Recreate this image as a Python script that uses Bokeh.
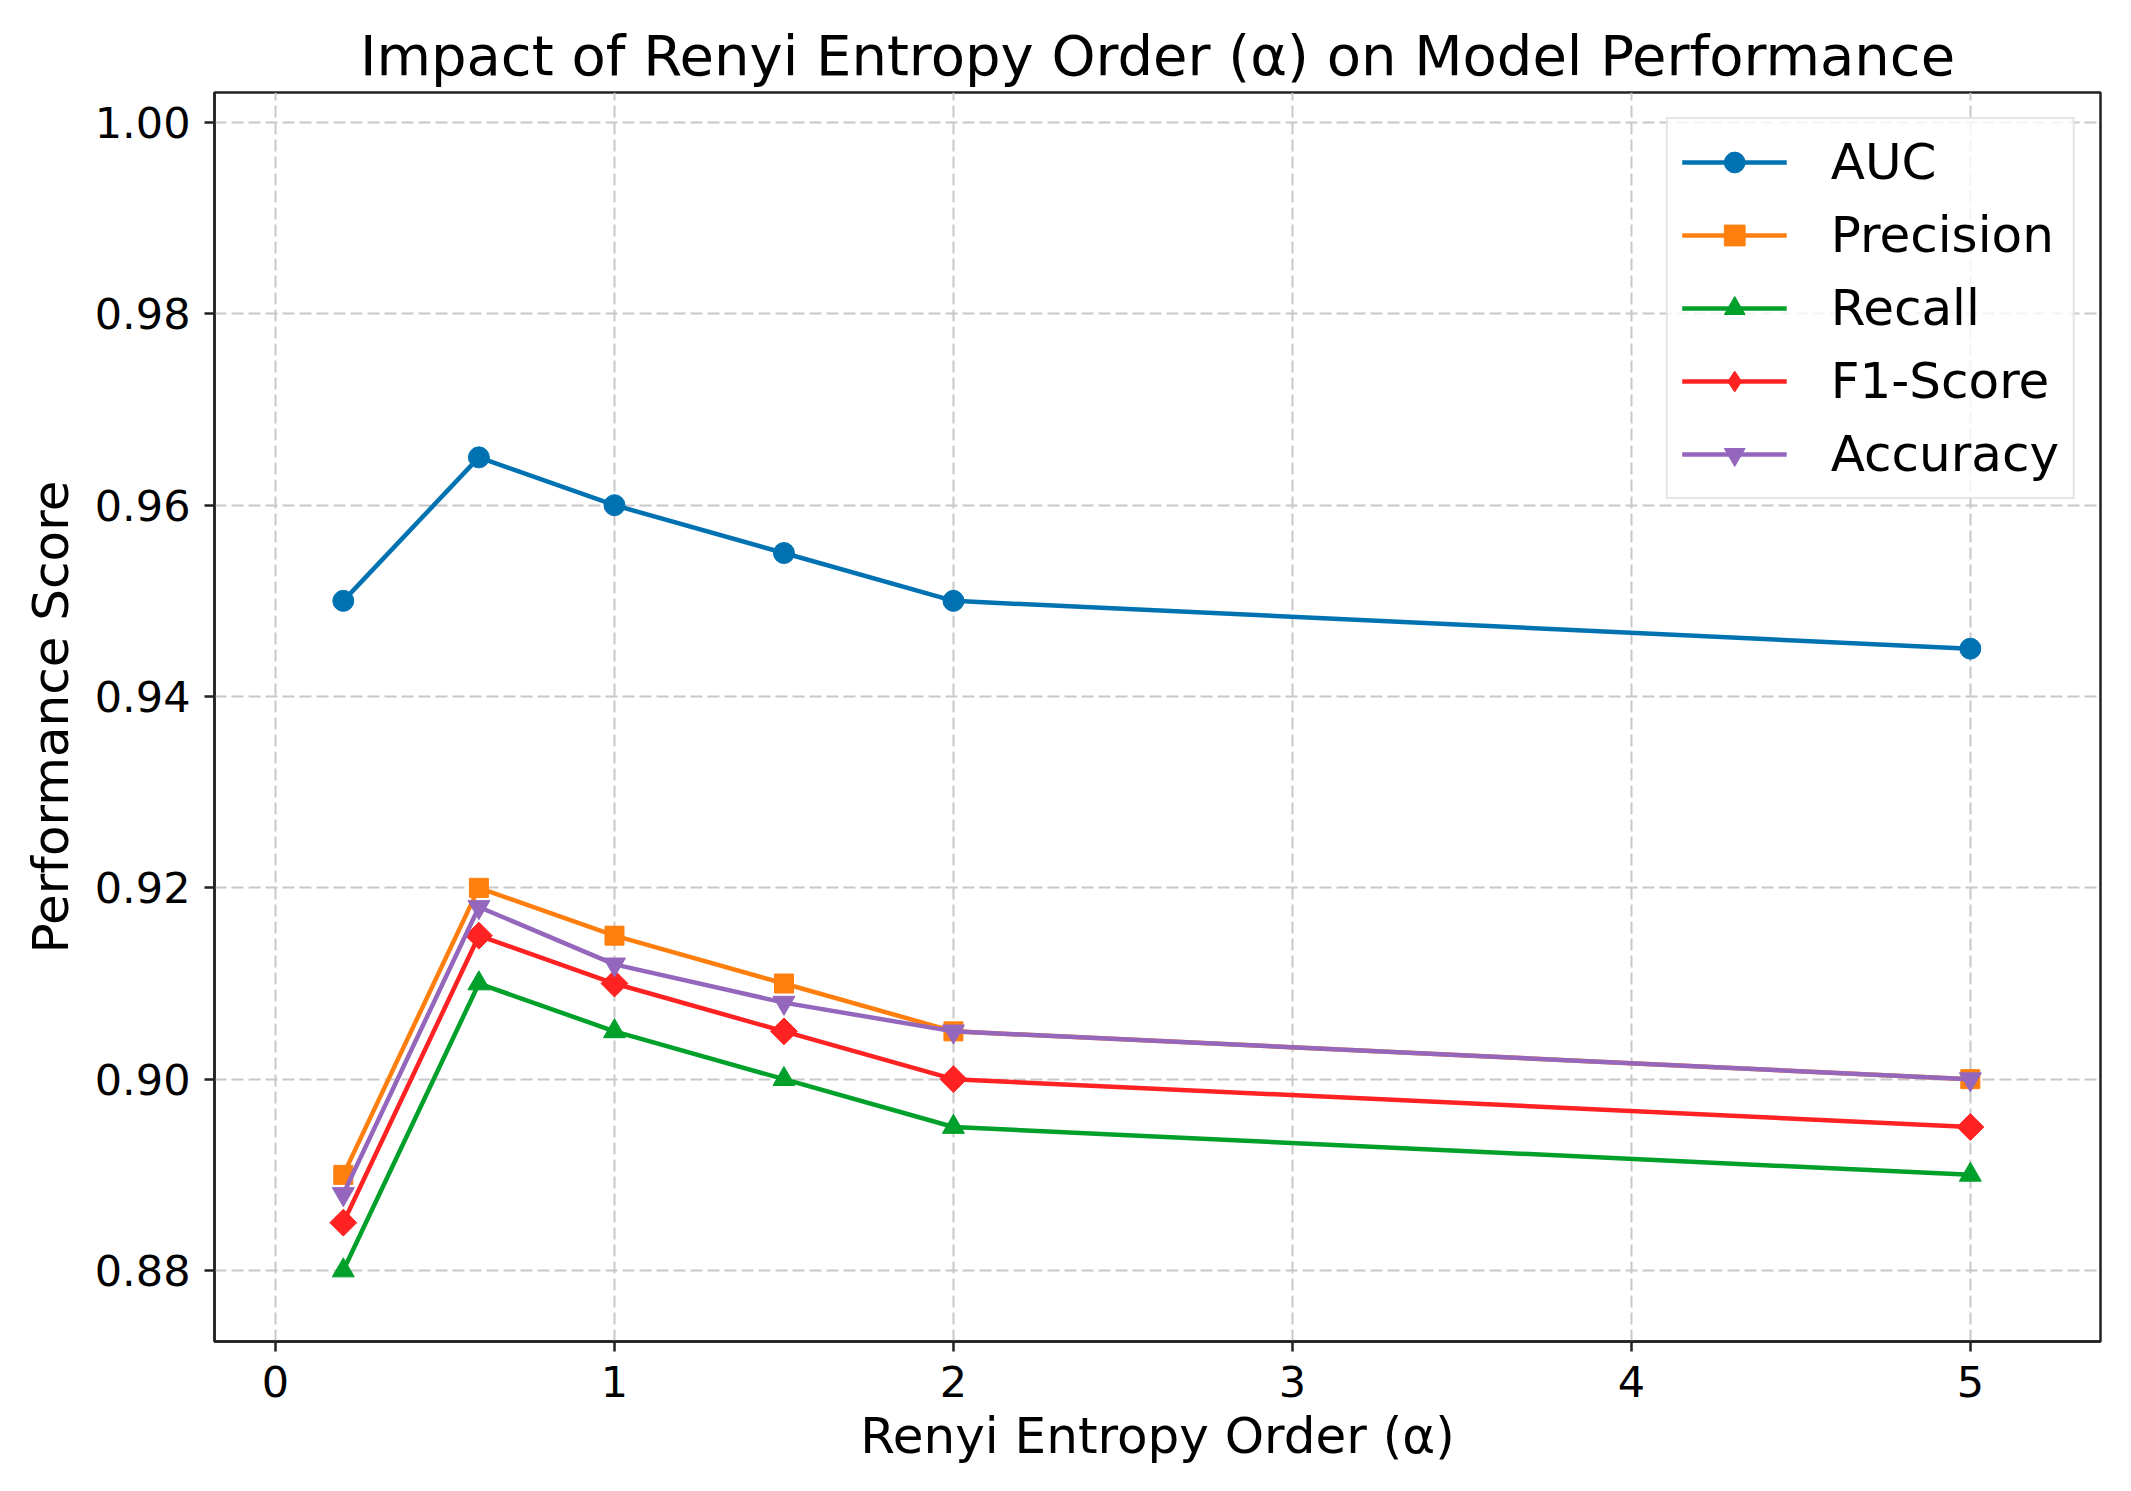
import math
from bokeh.plotting import figure
from bokeh.models import FixedTicker, Range1d, NumeralTickFormatter, Legend, LegendItem
from bokeh.embed import file_html
from bokeh.resources import INLINE

alpha_values = [0.2, 0.6, 1.0, 1.5, 2.0, 5.0]
auc = [0.950, 0.965, 0.960, 0.955, 0.950, 0.945]
precision = [0.890, 0.920, 0.915, 0.910, 0.905, 0.900]
recall = [0.880, 0.910, 0.905, 0.900, 0.895, 0.890]
f1_score = [0.885, 0.915, 0.910, 0.905, 0.900, 0.895]
accuracy = [0.888, 0.918, 0.912, 0.908, 0.905, 0.900]

x_ticks = [0, 1, 2, 3, 4, 5]
y_ticks = [0.88, 0.90, 0.92, 0.94, 0.96, 0.98, 1.00]

FONT = "DejaVu Sans"

p = figure(width=2115, height=1475, output_backend="svg", toolbar_location=None,
           x_range=Range1d(-0.18, 5.384), y_range=Range1d(0.87258, 1.00314),
           min_border_left=214, min_border_right=15, min_border_top=92, min_border_bottom=134,
           title="Impact of Renyi Entropy Order (\u03b1) on Model Performance")

p.title.text_font = FONT
p.title.text_font_size = "56px"
p.title.text_font_style = "normal"
p.title.text_color = "black"
p.title.align = "center"
p.title.standoff = 10

p.outline_line_color = "#222222"
p.outline_line_width = 2.5
p.background_fill_color = "white"
p.border_fill_color = "white"

for ax in (p.xaxis[0], p.yaxis[0]):
    ax.axis_label_text_font = FONT
    ax.axis_label_text_font_size = "50px"
    ax.axis_label_text_font_style = "normal"
    ax.major_label_text_font = FONT
    ax.major_label_text_font_size = "43px"
    ax.major_label_text_color = "black"
    ax.axis_label_text_color = "black"
    ax.major_tick_out = 10
    ax.major_tick_in = 0
    ax.minor_tick_out = 0
    ax.minor_tick_in = 0
    ax.major_tick_line_width = 2.5
    ax.major_tick_line_color = "#222222"
    ax.axis_line_color = "#222222"
    ax.axis_line_width = 2.5

p.xaxis.axis_label = "Renyi Entropy Order (\u03b1)"
p.yaxis.axis_label = "Performance Score"
p.xaxis.ticker = FixedTicker(ticks=x_ticks)
p.yaxis.ticker = FixedTicker(ticks=y_ticks)
p.yaxis.formatter = NumeralTickFormatter(format="0.00")
p.xaxis.major_label_standoff = 14
p.yaxis.major_label_standoff = 14
p.xaxis.axis_label_standoff = 7
p.yaxis.axis_label_standoff = 12

p.grid.grid_line_color = "#c8c8c8"
p.grid.grid_line_width = 2
p.grid.grid_line_dash = "12 5"
p.xgrid.ticker = FixedTicker(ticks=x_ticks)
p.ygrid.ticker = FixedTicker(ticks=y_ticks)

series = [
    ("AUC", auc, "#0072B2", "circle", 21, 0.0, "circle"),
    ("Precision", precision, "#FF7F0E", "square", 19, 0.0, "square"),
    ("Recall", recall, "#00A02A", "triangle", 22, 0.0, "triangle"),
    ("F1-Score", f1_score, "#FF2222", "square", 19, math.pi / 4, "diamond"),
    ("Accuracy", accuracy, "#9467BD", "inverted_triangle", 22, 0.0, "inverted_triangle"),
]

items = []
for name, vals, color, marker, size, ang, lg_marker in series:
    r_line = p.line(alpha_values, vals, line_color=color, line_width=4.5)
    p.scatter(alpha_values, vals, marker=marker, size=size, angle=ang, fill_color=color,
              line_color=color, line_width=1)
    # legend-only marker (no data drawn in the plot area)
    r_lg = p.scatter([float("nan")], [float("nan")], marker=lg_marker, size=size,
                     fill_color=color, line_color=color, line_width=1)
    items.append(LegendItem(label=name, renderers=[r_line, r_lg]))

lg = Legend(items=items)
lg.location = "top_right"
lg.margin = 25
lg.padding = 14
lg.spacing = 15
lg.glyph_width = 105
lg.glyph_height = 52
lg.label_height = 52
lg.label_standoff = 44
lg.label_text_font = FONT
lg.label_text_font_size = "50px"
lg.label_text_color = "black"
lg.label_text_baseline = "middle"
lg.border_line_color = "#cccccc"
lg.border_line_width = 2
lg.background_fill_alpha = 0.8
p.add_layout(lg, "center")

open("out.html", "w").write(file_html(p, INLINE))
